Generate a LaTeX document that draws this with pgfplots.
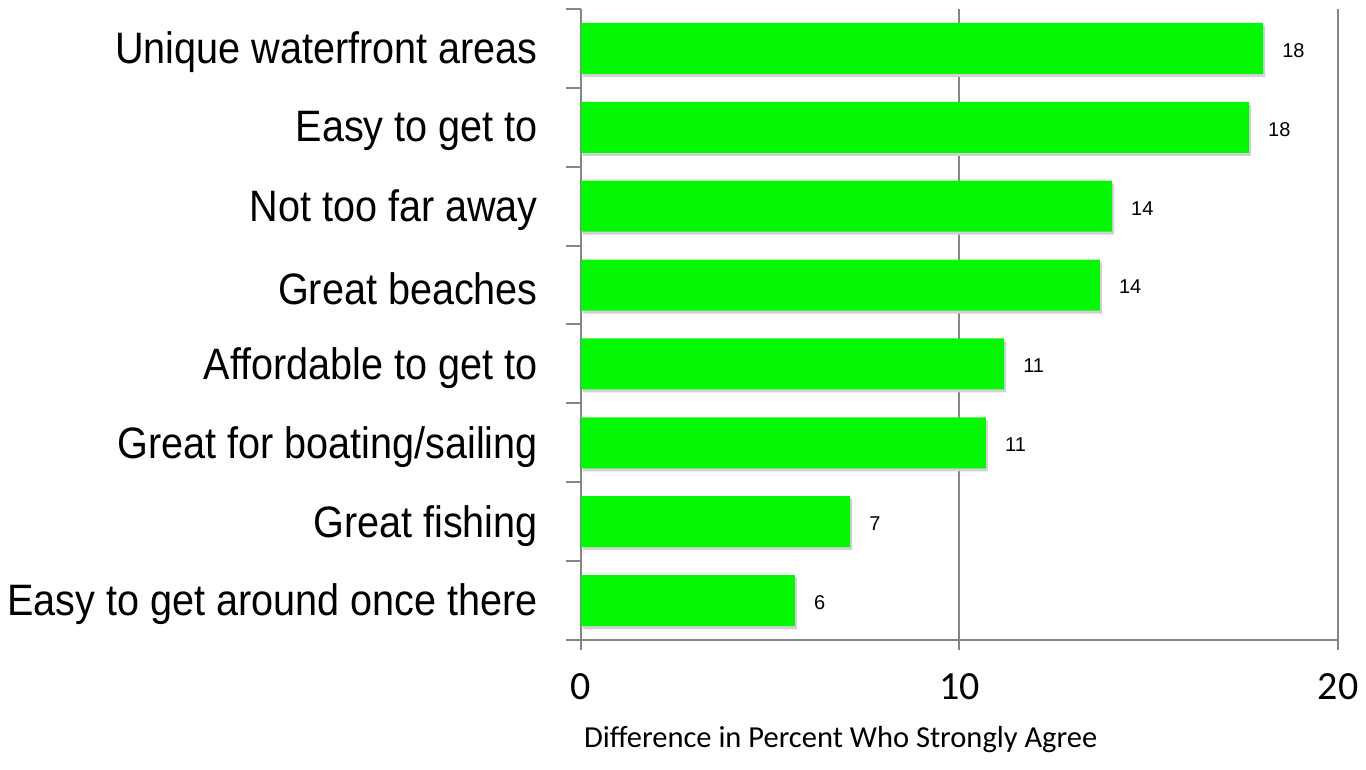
\documentclass[border=0pt]{standalone}
\usepackage{pgfplots}
\pgfplotsset{compat=1.18}
\usepackage{fontspec}
\setmainfont{Liberation Sans}
\newfontfamily\catfont[FakeStretch=0.9]{Liberation Sans}
\newfontfamily\calfont{Carlito}
\definecolor{axgray}{HTML}{868686}
\definecolor{bargreen}{RGB}{4,248,4}
\begin{document}
\begin{tikzpicture}[x=1pt,y=1pt]
\useasboundingbox (-581,-130) rectangle (785,640);
\begin{axis}[
  at={(0,0)}, anchor=south west,
  scale only axis, width=757pt, height=631pt,
  xmin=0, xmax=20, ymin=-0.5, ymax=7.5,
  axis x line*=bottom, axis y line*=left,
  axis line style={draw=axgray, line width=2pt},
  xtick={0,10,20},
  xmajorgrids, grid style={draw=axgray, line width=2pt},
  ytick={0,...,7},
  yticklabels={Easy to get around once there, Great fishing, Great for boating/sailing, Affordable to get to, Great beaches, Not too far away, Easy to get to, Unique waterfront areas},
  minor ytick={-0.5,0.5,...,7.5},
  major tick length=10pt, minor tick length=15pt,
  tick align=outside,
  tick style={draw=axgray, line width=2pt},
  major y tick style={draw=none},
  /pgf/number format/assume math mode=true,
  xticklabel style={font=\calfont\fontsize{40}{42}\selectfont, yshift=-20pt},
  yticklabel style={font=\catfont\fontsize{44}{46}\selectfont, anchor=east, inner sep=0pt, xshift=-33pt, yshift=-4pt},
  xlabel={Difference in Percent Who Strongly Agree},
  xlabel style={at={(rel axis cs:0.343,0)}, anchor=base, yshift=-108pt, font=\calfont\fontsize{30.5}{32}\selectfont},
  xbar, bar width=51pt,
  point meta=explicit symbolic,
  nodes near coords,
  every node near coord/.append style={anchor=west, inner sep=0pt, xshift=19pt, yshift=-2pt, font=\fontsize{20}{22}\selectfont, black},
]
\addplot[fill=bargreen, draw=none,
  preaction={fill=black!18, transform canvas={shift={(2pt,-3pt)}}}]
  coordinates {
  (5.65,0) [6]
  (7.11,1) [7]
  (10.70,2) [11]
  (11.18,3) [11]
  (13.71,4) [14]
  (14.03,5) [14]
  (17.65,6) [18]
  (18.02,7) [18]
};
\end{axis}
\end{tikzpicture}
\end{document}
